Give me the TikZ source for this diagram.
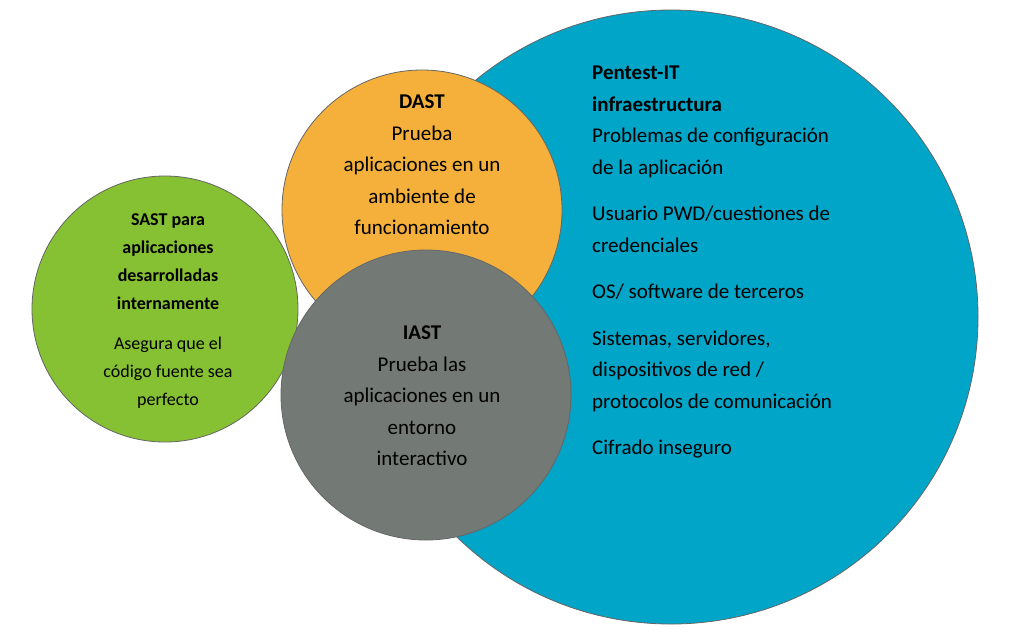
\documentclass[tikz,border=0pt]{standalone}
\usepackage{fontspec}
\setmainfont{Carlito}
\begin{document}
\begin{tikzpicture}[x=1pt,y=-1pt,
 circ/.style={circle,draw=black!60,line width=0.8pt,inner sep=0pt},
 txt/.style={align=left,font=\fontsize{21}{31.5}\selectfont,anchor=north west,inner sep=0pt},
 ctxt/.style={align=center,font=\fontsize{21}{31.5}\selectfont,inner sep=0pt}]
\useasboundingbox (0,0) rectangle (1024,641);
\node[circ,fill={rgb,255:red,0;green,165;blue,200},minimum size=614pt] (blue) at (671,317) {};
\node[circ,fill={rgb,255:red,244;green,176;blue,58},minimum size=280pt] (dast) at (422,210) {};
\node[circ,fill={rgb,255:red,133;green,193;blue,50},minimum size=266pt] (sast) at (165,309) {};
\node[circ,fill={rgb,255:red,115;green,122;blue,117},minimum size=290pt] (iast) at (426,395) {};
\node[txt] (bt) at (592,66) {\textbf{Pentest-IT}\\\textbf{infraestructura}\\Problemas de configuración\\de la aplicación\\[15pt]Usuario PWD/cuestiones de\\credenciales\\[15pt]OS/ software de terceros\\[15pt]Sistemas, servidores,\\dispositivos de red /\\protocolos de comunicación\\[15pt]Cifrado inseguro};
\node[ctxt] (dt) at (422,165) {\textbf{DAST}\\Prueba\\aplicaciones en un\\ambiente de\\funcionamiento};
\node[ctxt] (it) at (422,396) {\textbf{IAST}\\Prueba las\\aplicaciones en un\\entorno\\interactivo};
\node[align=center,font=\fontsize{18}{28}\selectfont,inner sep=0pt] (st) at (168,311) {\textbf{SAST para}\\\textbf{aplicaciones}\\\textbf{desarrolladas}\\\textbf{internamente}\\[12pt]Asegura que el\\código fuente sea\\perfecto};
\end{tikzpicture}
\end{document}
